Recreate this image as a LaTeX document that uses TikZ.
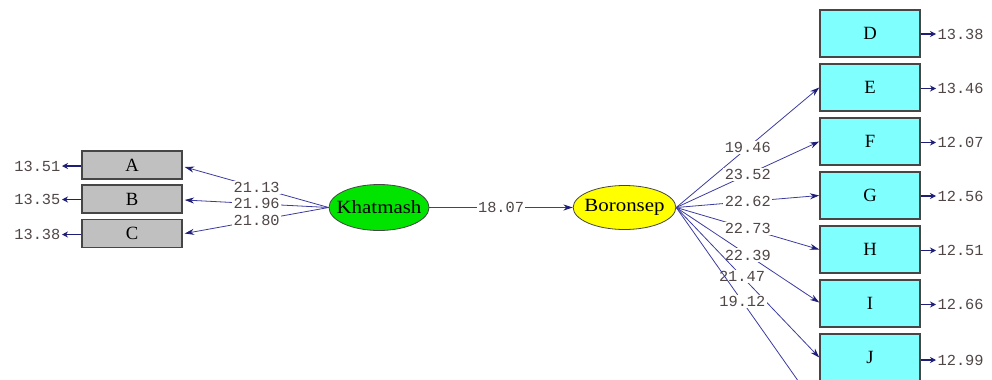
\documentclass[tikz,border=0pt]{standalone}
\usepackage{fontspec}
\setmainfont{Liberation Serif}
\newfontfamily\monofnt{Liberation Mono}
\usetikzlibrary{arrows.meta,calc,shapes.geometric}
\definecolor{lnblue}{RGB}{60,60,160}
\definecolor{headblue}{RGB}{30,30,120}
\definecolor{lblgray}{RGB}{80,70,70}
\definecolor{boxgray}{RGB}{192,192,192}
\definecolor{boxcyan}{RGB}{128,255,255}
\definecolor{ellgreen}{RGB}{0,228,0}
\definecolor{ellyellow}{RGB}{255,255,0}
\definecolor{edgegray}{RGB}{70,70,70}
\tikzset{
  obsleft/.style={draw=edgegray,line width=1.1pt,fill=boxgray,minimum width=75pt,minimum height=21pt,inner sep=0pt,font=\fontsize{14}{14}\selectfont},
  obsright/.style={draw=edgegray,line width=1.1pt,fill=boxcyan,minimum width=75pt,minimum height=35pt,inner sep=0pt,font=\fontsize{14}{14}\selectfont},
  latent/.style={ellipse,draw=edgegray,line width=0.6pt,inner sep=0pt,label distance=0pt,label={[font=\fontsize{14}{14}\selectfont,inner sep=0pt]center:#1}},
  numlbl/.style={font=\monofnt\fontsize{11.5}{11.5}\selectfont,text=lblgray,fill=white,inner sep=1pt},
  errlbl/.style={font=\monofnt\fontsize{11.5}{11.5}\selectfont,text=lblgray,inner sep=1pt},
  path/.style={draw=lnblue,line width=0.6pt,-{Stealth[length=7pt,width=4.5pt,color=headblue]}},
  errarrow/.style={draw=headblue,line width=1.1pt,-{Stealth[length=4.5pt,width=4.5pt,color=headblue]}}
}
\begin{document}
\begin{tikzpicture}[x=0.75pt,y=-0.75pt]
\useasboundingbox (0,0) rectangle (992,379);
\clip (0,0) rectangle (992,379);
% left observed
\node[obsleft] (A) at (132,165) {A};
\node[obsleft] (B) at (132,199) {B};
\node[obsleft] (C) at (132,233.5) {C};
% latents
\node[latent={\scalebox{1.12}[1]{Khatmash}},fill=ellgreen,minimum width=75pt,minimum height=34.5pt] (kh) at (379,207.5) {};
\node[latent={\scalebox{1.12}[1]{Boronsep}},fill=ellyellow,minimum width=77pt,minimum height=33pt] (bo) at (624.5,207.5) {};
% right observed
\node[obsright] (D) at (870,33.5) {D};
\node[obsright] (E) at (870,87.5) {E};
\node[obsright] (F) at (870,141.5) {F};
\node[obsright] (G) at (870,195.5) {G};
\node[obsright] (H) at (870,249.5) {H};
\node[obsright] (I) at (870,303.5) {I};
\node[obsright] (J) at (870,357.5) {J};
\coordinate (K) at (820,412);
% left error labels
\node[errlbl,anchor=east] (eA) at (62,166) {13.51};
\node[errlbl,anchor=east] (eB) at (62,199.5) {13.35};
\node[errlbl,anchor=east] (eC) at (62,234.5) {13.38};
\foreach \b in {A,B,C}{
  \draw[errarrow] (\b.west |- e\b.east) -- (e\b.east);
}
% right error labels
\node[errlbl,anchor=west] (eD) at (936,34) {13.38};
\node[errlbl,anchor=west] (eE) at (936,88.5) {13.46};
\node[errlbl,anchor=west] (eF) at (936,142.5) {12.07};
\node[errlbl,anchor=west] (eG) at (936,196) {12.56};
\node[errlbl,anchor=west] (eH) at (936,250.5) {12.51};
\node[errlbl,anchor=west] (eI) at (936,304.5) {12.66};
\node[errlbl,anchor=west] (eJ) at (936,360) {12.99};
\foreach \b in {D,E,F,G,H,I,J}{
  \draw[errarrow] (\b.east |- e\b.west) -- (e\b.west);
}
% left paths
\draw[path] (kh.west) -- node[numlbl,pos=0.5] {21.13} ($(A.east)+(2,2)$);
\draw[path] (kh.west) -- node[numlbl,pos=0.5] {21.96} ($(B.east)+(2,1)$);
\draw[path] (kh.west) -- node[numlbl,pos=0.5] {21.80} ($(C.east)+(2,0)$);
% middle
\draw[path] (kh.east) -- node[numlbl,pos=0.5] {18.07} (bo.west);
% right paths
\draw[path] (bo.east) -- node[numlbl,pos=0.5] {19.46} (E.west);
\draw[path] (bo.east) -- node[numlbl,pos=0.5] {23.52} (F.west);
\draw[path] (bo.east) -- node[numlbl,pos=0.5] {22.62} (G.west);
\draw[path] (bo.east) -- node[numlbl,pos=0.5] {22.73} (H.west);
\draw[path] (bo.east) -- node[numlbl,pos=0.5] {22.39} ($(I.west)+(0,-1)$);
\draw[path] (bo.east) -- node[numlbl,pos=0.46] {21.47} (J.west);
\draw[path] (bo.east) -- node[numlbl,pos=0.46] {19.12} (K);
\end{tikzpicture}
\end{document}
